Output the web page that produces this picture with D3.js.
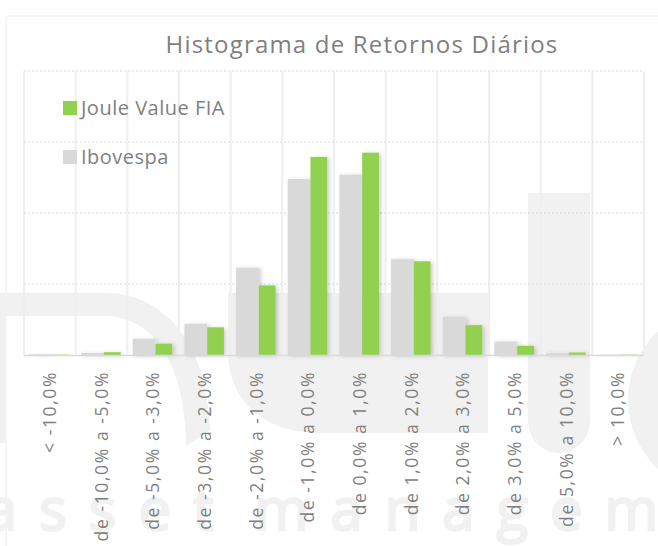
<!DOCTYPE html>
<html>
<head>
<meta charset="utf-8">
<script src="https://cdn.jsdelivr.net/npm/d3@7/dist/d3.min.js"></script>
<style>
  body { margin: 0; background: #fff; }
  svg { display: block; font-family: "Open Sans", "Noto Sans", sans-serif; }
</style>
</head>
<body>
<div id="container"></div>
<script>
const categories = ["< -10,0%", "de -10,0% a -5,0%", "de -5,0% a -3,0%", "de -3,0% a -2,0%",
  "de -2,0% a -1,0%", "de -1,0% a 0,0%", "de 0,0% a 1,0%", "de 1,0% a 2,0%",
  "de 2,0% a 3,0%", "de 3,0% a 5,0%", "de 5,0% a 10,0%", "> 10,0%"];
const ibovespa = [0.1, 0.3, 2.3, 4.4, 12.3, 24.8, 25.4, 13.5, 5.4, 1.9, 0.3, 0.05];
const jouleValue = [0.05, 0.4, 1.6, 3.9, 9.8, 27.9, 28.5, 13.2, 4.2, 1.3, 0.35, 0.05];
const seriesNames = ["Joule Value FIA", "Ibovespa"];
const gridTicks = [10, 20, 30, 40];

const w = 658, h = 546;
const plotLeft = 24, plotRight = 644, plotTop = 71, plotBottom = 355;
const green = "#92d050", grey = "#d9d9d9", textColor = "#7f7f7f", wm = "#f1f1f1";

const svg = d3.select("#container").append("svg")
  .attr("width", w).attr("height", h);

const defs = svg.append("defs");
const f = defs.append("filter").attr("id", "shadow")
  .attr("x", "-30%").attr("y", "-10%").attr("width", "160%").attr("height", "120%");
f.append("feDropShadow").attr("dx", 2).attr("dy", 1).attr("stdDeviation", 2)
  .attr("flood-color", "#000").attr("flood-opacity", 0.2);

// chart frame
svg.append("rect").attr("x", 6).attr("y", 16).attr("width", 700).attr("height", 600)
  .attr("rx", 3).attr("fill", "#fff").attr("stroke", "#ececec");

// watermark (logo shapes + text)
const wmG = svg.append("g").attr("fill", wm);
wmG.append("path").attr("d", "M0,293 L105,293 C165,293 208,345 210,430 L186,446 C186,362 152,316 105,316 L0,316 Z");
wmG.append("rect").attr("x", 0).attr("y", 293).attr("width", 5).attr("height", 150);
wmG.append("path").attr("d", "M228,293 L488,293 L488,433 L320,433 C262,433 228,400 228,350 Z");
wmG.append("path").attr("d", "M528,193 L590,193 L590,420 C590,440 575,453 559,453 C543,453 528,440 528,420 Z");
wmG.append("circle").attr("cx", 722).attr("cy", 400).attr("r", 94);
svg.append("text").attr("x", -15).attr("y", 530)
  .attr("font-size", 58).attr("font-weight", 400)
  .attr("letter-spacing", 22).attr("word-spacing", -18)
  .attr("fill", wm).attr("stroke", wm).attr("stroke-width", 2.5)
  .text("asset management");

const x = d3.scaleBand().domain(categories).range([plotLeft, plotRight]);
const y = d3.scaleLinear().domain([0, 40]).range([plotBottom, plotTop]);
const bw = x.bandwidth();

// vertical separators
svg.append("g").selectAll("line").data(d3.range(categories.length + 1)).join("line")
  .attr("x1", i => plotLeft + i * bw).attr("x2", i => plotLeft + i * bw)
  .attr("y1", plotTop).attr("y2", plotBottom)
  .attr("stroke", "#efefef").attr("stroke-width", 2);

// horizontal dotted grid
svg.append("g").selectAll("line").data(gridTicks).join("line")
  .attr("x1", plotLeft).attr("x2", plotRight)
  .attr("y1", d => y(d)).attr("y2", d => y(d))
  .attr("stroke", "#d9d9d9").attr("stroke-width", 1.2).attr("stroke-dasharray", "2,2");

// bars
const gBars = svg.append("g").attr("filter", "url(#shadow)");
gBars.selectAll("rect.ibov").data(ibovespa).join("rect").attr("class", "ibov")
  .attr("x", (d, i) => x(categories[i]) + bw * 0.105)
  .attr("width", bw * 0.44)
  .attr("y", d => y(d)).attr("height", d => y(0) - y(d))
  .attr("fill", grey);
gBars.selectAll("rect.joule").data(jouleValue).join("rect").attr("class", "joule")
  .attr("x", (d, i) => x(categories[i]) + bw * 0.545)
  .attr("width", bw * 0.325)
  .attr("y", d => y(d)).attr("height", d => y(0) - y(d))
  .attr("fill", green);

// baseline
svg.append("line").attr("x1", plotLeft).attr("x2", plotRight)
  .attr("y1", y(0) + 0.5).attr("y2", y(0) + 0.5)
  .attr("stroke", "#d9d9d9").attr("stroke-width", 1.5);

// x axis labels
const xAxis = d3.axisBottom(x).tickSize(0).tickPadding(0);
const ax = svg.append("g").attr("transform", "translate(0," + plotBottom + ")").call(xAxis);
ax.select(".domain").remove();
ax.selectAll("text")
  .attr("transform", "rotate(-90)")
  .attr("x", -16).attr("y", 0).attr("dy", "0.35em")
  .attr("text-anchor", "end")
  .attr("font-size", 17.5).attr("letter-spacing", 1.6)
  .attr("font-family", "Open Sans, sans-serif")
  .attr("fill", textColor);

// title
svg.append("text").attr("x", 362).attr("y", 53).attr("text-anchor", "middle")
  .attr("font-size", 24).attr("letter-spacing", 1.2)
  .attr("fill", textColor).text("Histograma de Retornos Diários");

// legend
const legColors = [green, grey];
const leg = svg.append("g").selectAll("g").data(seriesNames).join("g")
  .attr("transform", (d, i) => "translate(63," + (101 + i * 49) + ")");
leg.append("rect").attr("width", 14).attr("height", 14).attr("fill", (d, i) => legColors[i]);
leg.append("text").attr("x", 18).attr("y", 13.5).attr("font-size", 20)
  .attr("letter-spacing", 0.5)
  .attr("fill", textColor).text(d => d);
</script>
</body>
</html>
